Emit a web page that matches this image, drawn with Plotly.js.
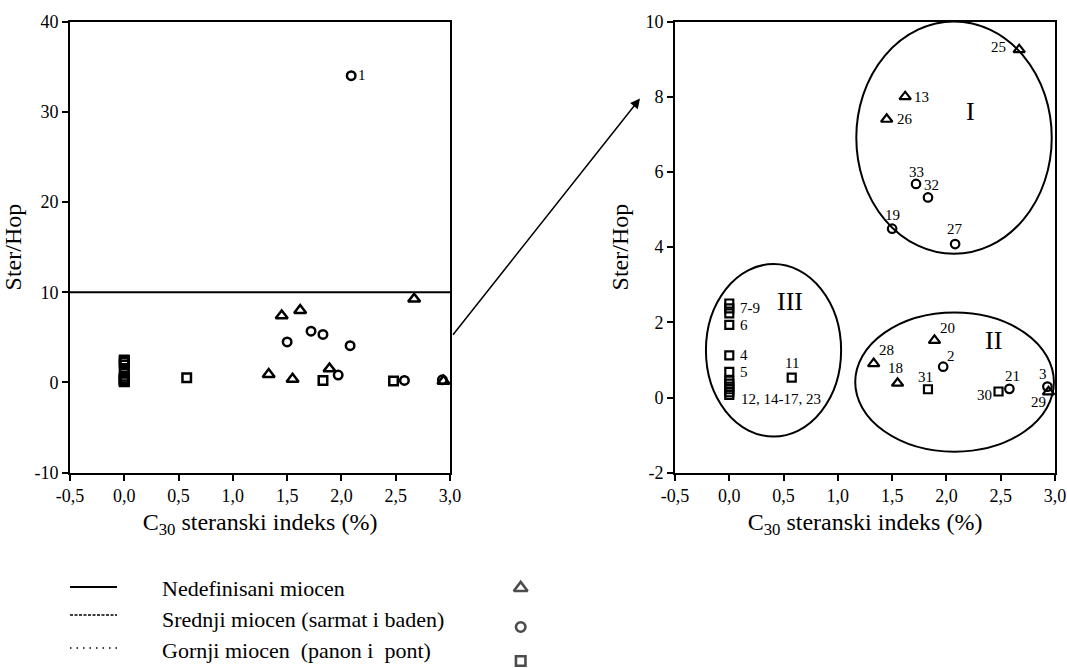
<!DOCTYPE html>
<html>
<head>
<meta charset="utf-8">
<script src="https://cdn.plot.ly/plotly-3.0.1.min.js"></script>
<style>html,body{margin:0;padding:0;background:#fff;}#chart{width:1067px;height:668px;}</style>
</head>
<body>
<div id="chart"></div>
<script>
// ---------- DATA ----------
const seriesNames = ['Nedefinisani miocen', 'Srednji miocen (sarmat i baden)', 'Gornji miocen\u00a0 (panon i\u00a0 pont)'];

// Nedefinisani miocen (triangles)
const triId = [25, 13, 26, 20, 28, 18, 29];
const triX  = [2.67, 1.62, 1.45, 1.89, 1.33, 1.55, 2.94];
const triY  = [9.25, 8.00, 7.40, 1.52, 0.90, 0.38, 0.15];

// Srednji miocen (circles)
const cirId = [1, 33, 32, 19, 27, 2, 21, 3];
const cirX  = [2.09, 1.72, 1.83, 1.50, 2.08, 1.97, 2.58, 2.93];
const cirY  = [34.0, 5.68, 5.32, 4.49, 4.08, 0.82, 0.23, 0.29];

// Gornji miocen (squares)
const sqId = [7, 8, 9, 6, 4, 5, 12, 14, 15, 16, 17, 23, 11, 31, 30];
const sqX  = [0, 0, 0, 0, 0, 0, 0, 0, 0, 0, 0, 0, 0.575, 1.83, 2.48];
const sqY  = [2.50, 2.37, 2.24, 1.93, 1.12, 0.68, 0.45, 0.37, 0.29, 0.22, 0.14, 0.07, 0.53, 0.22, 0.16];

// Threshold line on the left chart
const threshold = 10;

// Tick values / labels
const xTickVals   = [-0.5, 0, 0.5, 1, 1.5, 2, 2.5, 3];
const xTickLabels = ['-0,5', '0,0', '0,5', '1,0', '1,5', '2,0', '2,5', '3,0'];
const y1TickVals   = [-10, 0, 10, 20, 30, 40];
const y1TickLabels = ['-10', '0', '10', '20', '30', '40'];
const y2TickVals   = [-2, 0, 2, 4, 6, 8, 10];
const y2TickLabels = ['-2', '0', '2', '4', '6', '8', '10'];

// Point labels (text) and the sample id each label belongs to
const pointLabels   = ['25', '13', '26', '33', '32', '19', '27', '20', '28', '18', '2', '31', '30', '21', '3', '29', '11', '7-9', '6', '4', '5', '12, 14-17, 23'];
const pointLabelIds = [25, 13, 26, 33, 32, 19, 27, 20, 28, 18, 2, 31, 30, 21, 3, 29, 11, 8, 6, 4, 5, 23];
const leftLabels    = ['1'];
const leftLabelIds  = [1];

// Cluster names
const clusterNames = ['I', 'II', 'III'];

// ---------- STYLE / POSITIONS ----------
const FONT = '"Liberation Serif", "Times New Roman", Times, serif';
const W = 1067, H = 668;
const px = v => v / W, py = v => 1 - v / H;

// label offsets in px [xshift, yshift, xanchor]
const labelOffsets = [
  [-21, 3, 'center'], [16, 0, 'center'], [18, 0, 'center'], [0, 12, 'center'], [4, 12, 'center'],
  [0, 14, 'center'], [0, 15, 'center'], [13, 12, 'center'], [13, 14, 'center'], [-2, 15, 'center'],
  [8, 11, 'center'], [-2, 12, 'center'], [-14, -4, 'center'], [3, 13, 'center'], [-4, 13, 'center'],
  [-10, -10, 'center'], [0, 15, 'center'], [9, 0, 'left'], [9, 0, 'left'], [9, 0, 'left'],
  [9, 0, 'left'], [10, -4, 'left']
];
const leftLabelOffsets = [[11, 1, 'center']];

// cluster ellipse bounds (data coords of right chart) and label positions
const clusterBounds = [
  {x0: 1.17, x1: 2.97, y0: 3.82, y1: 10.0},
  {x0: 1.16, x1: 2.99, y0: -1.44, y1: 2.26},
  {x0: -0.215, x1: 1.03, y0: -1.04, y1: 3.55}
];
const clusterLabelPos = [[2.22, 7.6], [2.43, 1.52], [0.56, 2.55]];

function findPoint(id) {
  let i = triId.indexOf(id); if (i >= 0) return [triX[i], triY[i]];
  i = cirId.indexOf(id); if (i >= 0) return [cirX[i], cirY[i]];
  i = sqId.indexOf(id); if (i >= 0) return [sqX[i], sqY[i]];
  return null;
}

function markerTraces(xa, ya, big) {
  const lw = big ? 2.5 : 2.2;
  return [
    {x: triX, y: triY, name: seriesNames[0], type: 'scatter', mode: 'markers', xaxis: xa, yaxis: ya,
     marker: {symbol: 'triangle-up-open', size: big ? 10.5 : 10, color: '#000', line: {width: lw, color: '#000'}}},
    {x: cirX, y: cirY, name: seriesNames[1], type: 'scatter', mode: 'markers', xaxis: xa, yaxis: ya,
     marker: {symbol: 'circle-open', size: 8.5, color: '#000', line: {width: lw, color: '#000'}}},
    {x: sqX, y: sqY, name: seriesNames[2], type: 'scatter', mode: 'markers', xaxis: xa, yaxis: ya,
     marker: {symbol: 'square-open', size: big ? 8.5 : 8, color: '#000', line: {width: lw, color: '#000'}}}
  ];
}

const traces = [].concat(markerTraces('x', 'y', true), markerTraces('x2', 'y2', false));

// legend markers (drawn on an invisible helper axis in the legend area)
traces.push({
  x: [0.5, 0.5, 0.5], y: [80, 41, 7], xaxis: 'x3', yaxis: 'y3', type: 'scatter', mode: 'markers',
  marker: {symbol: ['triangle-up-open', 'circle-open', 'square-open'], size: [12, 9.5, 9.5], color: '#000', line: {width: 2.6, color: '#000'}},
  cliponaxis: false, hoverinfo: 'skip'
});

const axisCommon = {
  showline: true, linewidth: 2, linecolor: '#000', mirror: true, showgrid: false, zeroline: false,
  ticks: 'outside', ticklen: 6, tickwidth: 2, tickcolor: '#000',
  tickfont: {family: FONT, size: 18, color: '#000'}, automargin: false, fixedrange: true
};
const xTitle = {text: 'C<sub>30</sub> steranski indeks (%)', font: {family: FONT, size: 24, color: '#000'}, standoff: 8};
const yTitle = {text: 'Ster/Hop', font: {family: FONT, size: 24, color: '#000'}, standoff: 10};

const yDomain = [py(472.7), py(21.5)];

const layout = {
  width: W, height: H, margin: {l: 0, r: 0, t: 0, b: 0},
  paper_bgcolor: '#fff', plot_bgcolor: 'rgba(0,0,0,0)', showlegend: false,
  font: {family: FONT, color: '#000'},
  xaxis: Object.assign({}, axisCommon, {domain: [px(70), px(450)], range: [-0.5, 3.0], tickvals: xTickVals, ticktext: xTickLabels, anchor: 'y', title: xTitle}),
  yaxis: Object.assign({}, axisCommon, {domain: yDomain, range: [-10, 40], tickvals: y1TickVals, ticktext: y1TickLabels, anchor: 'x', title: yTitle}),
  xaxis2: Object.assign({}, axisCommon, {domain: [px(675), px(1055)], range: [-0.5, 3.0], tickvals: xTickVals, ticktext: xTickLabels, anchor: 'y2', title: xTitle}),
  yaxis2: Object.assign({}, axisCommon, {domain: yDomain, range: [-2, 10], tickvals: y2TickVals, ticktext: y2TickLabels, anchor: 'x2', title: yTitle}),
  xaxis3: {domain: [px(500), px(541.4)], range: [0, 1], visible: false, fixedrange: true, anchor: 'y3'},
  yaxis3: {domain: [0, py(570)], range: [0, 98], visible: false, fixedrange: true, anchor: 'x3'},
  shapes: [],
  annotations: []
};

// threshold line on left chart
layout.shapes.push({type: 'line', xref: 'x', yref: 'y', x0: -0.5, x1: 3.0, y0: threshold, y1: threshold, line: {color: '#000', width: 2}});

// cluster ellipses
clusterBounds.forEach(b => layout.shapes.push({type: 'circle', xref: 'x2', yref: 'y2', x0: b.x0, x1: b.x1, y0: b.y0, y1: b.y1, line: {color: '#000', width: 2}}));

// legend line samples
const legendRowsY = [587, 615, 648];
legendRowsY.forEach((yy, i) => layout.shapes.push({
  type: 'line', xref: 'paper', yref: 'paper', x0: px(70), x1: px(117), y0: py(yy), y1: py(yy),
  line: {color: '#000', width: i === 0 ? 2 : 1.6, dash: i === 1 ? '3px,1.5px' : (i === 2 ? '1.5px,5px' : 'solid')}
}));

// legend texts
const legendTextY = [588, 619, 650];
seriesNames.forEach((n, i) => layout.annotations.push({
  text: n, xref: 'paper', yref: 'paper', x: px(160), y: py(legendTextY[i]), xanchor: 'left', yanchor: 'middle',
  showarrow: false, font: {family: FONT, size: 22, color: '#000'}
}));

// point labels right chart
pointLabels.forEach((t, i) => {
  const p = findPoint(pointLabelIds[i]);
  const o = labelOffsets[i];
  layout.annotations.push({text: t, xref: 'x2', yref: 'y2', x: p[0], y: p[1], xshift: o[0], yshift: o[1], xanchor: o[2], yanchor: 'middle',
    showarrow: false, font: {family: FONT, size: 15, color: '#000'}});
});
// point labels left chart
leftLabels.forEach((t, i) => {
  const p = findPoint(leftLabelIds[i]);
  const o = leftLabelOffsets[i];
  layout.annotations.push({text: t, xref: 'x', yref: 'y', x: p[0], y: p[1], xshift: o[0], yshift: o[1], xanchor: o[2], yanchor: 'middle',
    showarrow: false, font: {family: FONT, size: 15, color: '#000'}});
});

// cluster names
clusterNames.forEach((t, i) => layout.annotations.push({
  text: t, xref: 'x2', yref: 'y2', x: clusterLabelPos[i][0], y: clusterLabelPos[i][1], showarrow: false,
  font: {family: FONT, size: 26, color: '#000'}
}));

// zoom arrow from left chart to right chart
layout.annotations.push({
  text: ' ', xref: 'paper', yref: 'paper', x: px(640), y: py(98.5), ax: -190, ay: 240,
  showarrow: true, arrowhead: 2, arrowsize: 1.3, arrowwidth: 1.5, arrowcolor: '#000', standoff: 0, startstandoff: 0
});

Plotly.newPlot('chart', traces, layout, {staticPlot: true, displayModeBar: false});
</script>
</body>
</html>
